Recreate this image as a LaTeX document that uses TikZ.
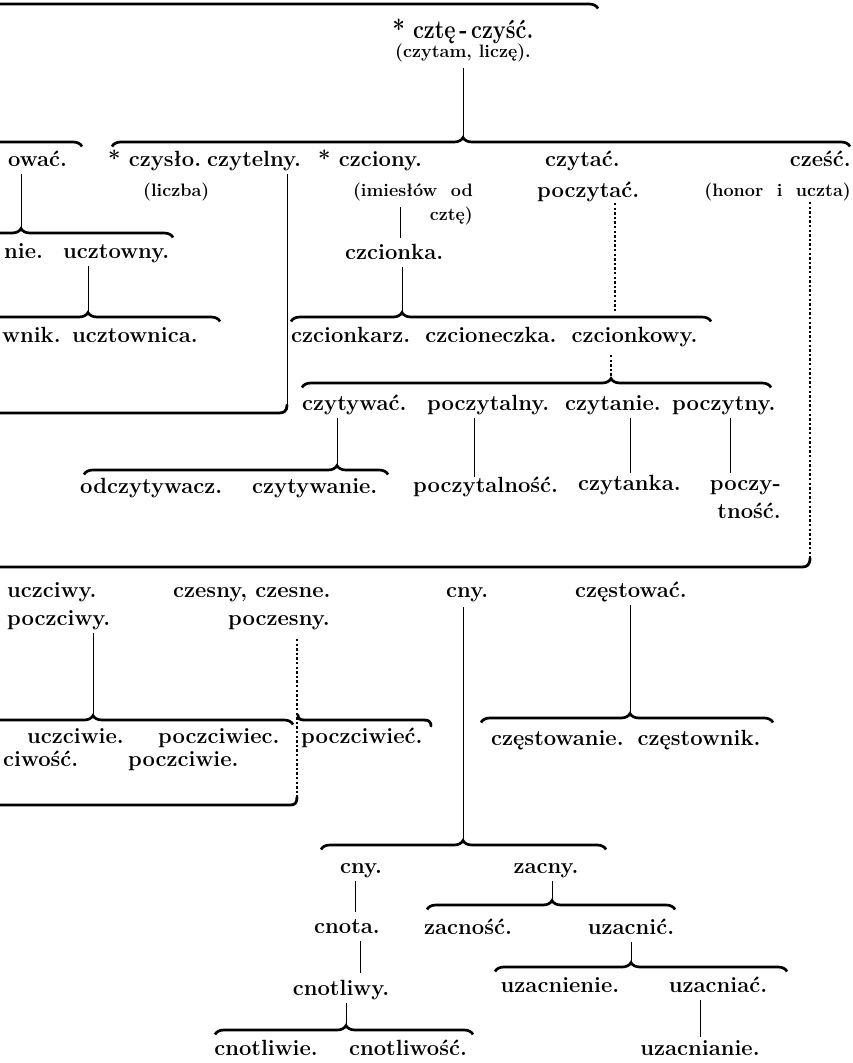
\documentclass[tikz,border=0pt]{standalone}
\usepackage{fontspec}
\usetikzlibrary{decorations.pathreplacing}
\newcommand{\wfont}{\fontsize{22}{26}\selectfont\bfseries}
\newcommand{\nfont}{\fontsize{18}{20}\selectfont\bfseries}
\newcommand{\rfont}{\fontsize{26}{28}\selectfont\bfseries}
\tikzset{
  word/.style={font=\wfont, inner sep=0pt, anchor=base west},
  note/.style={font=\nfont, inner sep=0pt, anchor=base west},
  conn/.style={line width=0.8pt, shorten <=8pt},
  dotline/.style={line width=1.3pt, dash pattern=on 2.4pt off 2.2pt, shorten <=6pt},
  wbrc/.style={line width=2.7pt, decorate},
  wbar/.style={line width=2.8pt, line cap=round}
}
% brace: name of tip, left, right, y of bar, x of tip
\newcommand{\wbrace}[5]{%
  \pgfmathsetmacro{\brasp}{(#5-(#2))/((#3)-(#2))}
  \draw[wbrc, decoration={brace, amplitude=9pt, aspect=\brasp}] (#2,#4+4.5) -- (#3,#4+4.5);
  \coordinate (#1) at (#5,#4-4.5);
}
\begin{document}
\begin{tikzpicture}[x=1pt,y=-1pt]
\useasboundingbox (0,0) rectangle (852,1063);
\clip (0,0) rectangle (852,1063);
% root
\node[font=\rfont, inner sep=0pt, anchor=base] (root) at (463,38) {\scalebox{0.84}[1]{* cztę\,-\,czyść.}};
\node[note, anchor=base] (rootnote) at (463,57) {(czytam, liczę).};
\wbrace{tb}{-400}{598}{4}{-100}
\wbrace{lb}{-200}{82}{142}{-60}
\wbrace{tmain}{112}{850}{142}{463}
\draw[conn, shorten <=11pt] (tmain |- rootnote.base) -- (tmain);
% first row
\node[word] (ucztowac) at (8,166) {ować.};
\node[word] (czyslo) at (108,166) {* czysło.};
\node[word] (czytelny) at (207,166) {czytelny.};
\node[word] (czciony) at (318,166) {* czciony.};
\node[word] (czytac) at (545,166) {czytać.};
\node[word, anchor=base east] (czesc) at (851,166) {cześć.};
\node[note] (czyslonote) at (143,196) {(liczba)};
\node[note, anchor=base east] (czcionynote) at (473,196) {(imiesłów\ \ od};
\node[note, anchor=base east] (czcionynoteb) at (473,220) {cztę)};
\node[word] (poczytac) at (537,197) {poczytać.};
\node[note, anchor=base east] (czescnote) at (851,196) {(honor\ \ i\ \ uczta)};
% ucztowac branch
\wbrace{tuczt}{-120}{173}{233}{21}
\draw[conn] (tuczt |- ucztowac.base) -- (tuczt);
\node[word] (ucztowanie) at (4,258) {nie.};
\node[word] (ucztowny) at (63,258) {ucztowny.};
\wbrace{tucztn}{-60}{220}{317}{88}
\draw[conn] (tucztn |- ucztowny.base) -- (tucztn);
\node[word] (ucztownik) at (2,342) {wnik.};
\node[word] (ucztownica) at (72,342) {ucztownica.};
% czytelny
\coordinate (cz1) at (287,405);
\draw[conn] (cz1 |- czytelny.base) -- (cz1);
\draw[wbar] (-10,413) -- (279,413) .. controls (284,413) and (287,411) .. (287,405);
% czciony branch
\coordinate (cy1) at (400,238);
\draw[conn, shorten <=11pt] (cy1 |- czcionynote.base) -- (cy1);
\node[word] (czcionka) at (345,259) {czcionka.};
\wbrace{tczk}{291}{711}{317}{402}
\draw[conn] (tczk |- czcionka.base) -- (tczk);
\node[word] (czcionkarz) at (291,342) {czcionkarz.\hspace{15pt}czcioneczka.\hspace{15pt}czcionkowy.};
% czytac branch
\coordinate (d1) at (615,311);
\draw[dotline] (d1 |- poczytac.base) -- (d1);
\wbrace{tczyt}{302}{771}{383}{611}
\draw[dotline, shorten <=13pt] (tczyt |- czcionkarz.base) -- (tczyt);
\node[word] (czytywac) at (302,410) {czytywać.};
\node[word] (poczytalny) at (427,410) {poczytalny.};
\node[word] (czytanie) at (565,410) {czytanie.};
\node[word] (poczytny) at (672,410) {poczytny.};
\wbrace{todcz}{84}{388}{470}{337}
\draw[conn] (todcz |- czytywac.base) -- (todcz);
\node[word] (odczytywacz) at (80,493) {odczytywacz.};
\node[word] (czytywanie) at (252,493) {czytywanie.};
\coordinate (l1) at (474,477);
\coordinate (l2) at (630,473);
\coordinate (l3) at (730,473);
\draw[conn] (l1 |- poczytalny.base) -- (l1);
\draw[conn] (l2 |- czytanie.base) -- (l2);
\draw[conn] (l3 |- poczytny.base) -- (l3);
\node[word] (poczytalnosc) at (413,492) {poczytalność.};
\node[word] (czytanka) at (578,490) {czytanka.};
\node[word, anchor=base east] (poczytnosc) at (781,490) {poczy-};
\node[word, anchor=base east] (poczytnoscb) at (781,518) {tność.};
% czesc branch
\coordinate (d2) at (810,558);
\draw[dotline] (d2 |- czescnote.base) -- (d2);
\draw[wbar] (-10,567) -- (802,567) .. controls (807,567) and (810,565) .. (810,558);
\node[word] (uczciwy) at (7,597) {uczciwy.};
\node[word] (poczciwy) at (7,625) {poczciwy.};
\node[word] (czesny) at (173,597) {czesny, czesne.};
\node[word] (poczesny) at (228,625) {poczesny.};
\node[word] (cny) at (446,597) {cny.};
\node[word] (czestowac) at (575,597) {częstować.};
\wbrace{tpocz}{-80}{293}{720}{93}
\draw[conn] (tpocz |- poczciwy.base) -- (tpocz);
\draw[wbar] (298,715) .. controls (298,719) and (300,720) .. (305,720) -- (424,720) .. controls (429,720) and (431,722) .. (431,726);
\coordinate (d3) at (297,797);
\draw[dotline, shorten <=14pt] (d3 |- poczesny.base) -- (d3);
\draw[wbar] (-10,805) -- (290,805) .. controls (295,805) and (297,803) .. (297,797);
\node[word] (uczciwie) at (27,743) {uczciwie.};
\node[word] (poczciwiec) at (158,743) {poczciwiec.};
\node[word] (uczciwosc) at (3,766) {ciwość.};
\node[word] (poczciwie) at (128,766) {poczciwie.};
\node[word] (poczciwiecv) at (301,743) {poczciwieć.};
\wbrace{tczest}{481}{773}{718}{630}
\draw[conn] (tczest |- czestowac.base) -- (tczest);
\node[word] (czestowanie) at (491,745) {częstowanie.\hspace{14pt}częstownik.};
% cny branch
\wbrace{tcny}{321}{606}{845}{463}
\draw[conn, shorten <=10pt] (tcny |- cny.base) -- (tcny);
\node[word, anchor=base] (cnyb) at (361,873) {cny.};
\node[word, anchor=base] (zacny) at (546,873) {zacny.};
\coordinate (l4) at (355,912);
\draw[conn] (l4 |- cnyb.base) -- (l4);
\node[word, anchor=base] (cnota) at (347,933) {cnota.};
\coordinate (l5) at (360,973);
\draw[conn] (l5 |- cnota.base) -- (l5);
\node[word, anchor=base] (cnotliwy) at (341,995) {cnotliwy.};
\wbrace{tcnotl}{215}{473}{1030}{346}
\draw[conn] (tcnotl |- cnotliwy.base) -- (tcnotl);
\node[word, anchor=base] (cnotliwie) at (266,1055) {cnotliwie.};
\node[word, anchor=base] (cnotliwosc) at (408,1055) {cnotliwość.};
\wbrace{tzacny}{427}{675}{905}{552}
\draw[conn] (tzacny |- zacny.base) -- (tzacny);
\node[word, anchor=base] (zacnosc) at (468,934) {zacność.};
\node[word, anchor=base] (uzacnic) at (631,934) {uzacnić.};
\wbrace{tuzac}{495}{787}{967}{631}
\draw[conn] (tuzac |- uzacnic.base) -- (tuzac);
\node[word, anchor=base] (uzacnienie) at (560,992) {uzacnienie.};
\node[word, anchor=base] (uzacniac) at (718,992) {uzacniać.};
\coordinate (l6) at (700,1037);
\draw[conn] (l6 |- uzacniac.base) -- (l6);
\node[word, anchor=base] (uzacnianie) at (700,1055) {uzacnianie.};
\end{tikzpicture}
\end{document}
